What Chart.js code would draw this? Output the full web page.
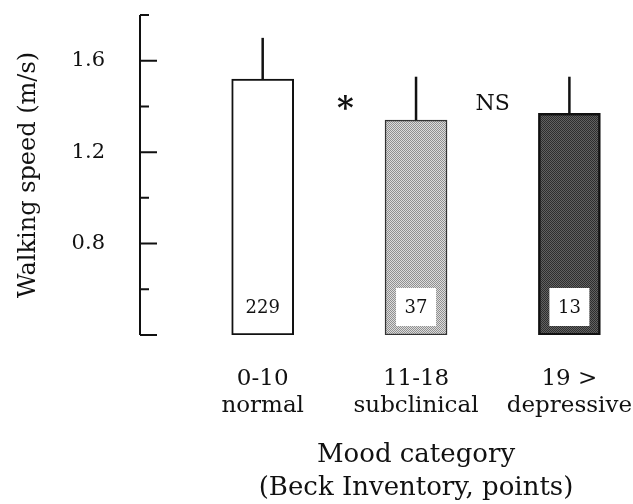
<!DOCTYPE html>
<html>
<head>
<meta charset="utf-8">
<script src="https://cdn.jsdelivr.net/npm/chart.js@4.4.1/dist/chart.umd.min.js"></script>
<style>
  html, body { margin: 0; padding: 0; background: #fff; }
  canvas { display: block; }
</style>
</head>
<body>
<canvas id="chart" width="633" height="504"></canvas>
<script>
// Walking speed by mood category (Beck Inventory)
var categoryTop = ['0-10', '11-18', '19 >'];
var categoryBottom = ['normal', 'subclinical', 'depressive'];
var meanSpeed = [1.52, 1.34, 1.37];
var sdSpeed = [0.18, 0.19, 0.16];
var groupSize = [229, 37, 13];
var compareLabels = ['*', 'NS'];
var compareLevel = 1.41;
var yTickLabels = ['0.8', '1.2', '1.6'];
var yMin = 0.4, yMax = 1.8;
var xTitle = ['Mood category', '(Beck Inventory, points)'];

var ink = '#111';
var serif = 'DejaVu Serif';

// small checker canvas used as a halftone fill
function makePattern(light, dark)
{
    var c = document.createElement('canvas');
    c.width = 2; c.height = 2;
    var g = c.getContext('2d');
    g.fillStyle = light; g.fillRect(0, 0, 2, 2);
    g.fillStyle = dark; g.fillRect(0, 0, 1, 1); g.fillRect(1, 1, 1, 1);
    return g.createPattern(c, 'repeat');
}

var fills = ['#ffffff', makePattern('#dcdcdc', '#909090'), makePattern('#626262', '#2e2e2e')];

// y axis line with inward ticks, error bars, group sizes, comparison marks, x title
var extras = {
    id: 'extras',
    afterDatasetsDraw: function (chart)
    {
        var ctx = chart.ctx;
        var y = chart.scales.y;
        var area = chart.chartArea;
        var bars = chart.getDatasetMeta(0).data;
        ctx.save();

        // error bars (upper half only)
        ctx.strokeStyle = ink;
        ctx.lineWidth = 2.5;
        bars.forEach(function (bar, i)
        {
            ctx.beginPath();
            ctx.moveTo(bar.x, bar.y);
            ctx.lineTo(bar.x, y.getPixelForValue(meanSpeed[i] + sdSpeed[i]));
            ctx.stroke();
        });

        // group size boxes near the bar bottoms
        ctx.font = '18px "' + serif + '"';
        ctx.textAlign = 'center';
        ctx.textBaseline = 'middle';
        bars.forEach(function (bar, i)
        {
            var bw = 40, bh = 38;
            var by = bar.base - 9 - bh;
            ctx.fillStyle = '#fff';
            ctx.fillRect(bar.x - bw / 2, by, bw, bh);
            ctx.fillStyle = ink;
            ctx.fillText(String(groupSize[i]), bar.x, by + bh / 2 + 1);
        });

        // comparison marks between neighbouring bars
        compareLabels.forEach(function (lab, i)
        {
            var px = (bars[i].x + bars[i + 1].x) / 2;
            var big = lab === '*';
            ctx.font = (big ? 'bold 32px "' : '22px "') + serif + '"';
            ctx.fillText(lab, px + (big ? 6 : 0), y.getPixelForValue(compareLevel) + (big ? 6 : 0));
        });

        // x axis title, centred under the bars
        var mid = (bars[0].x + bars[bars.length - 1].x) / 2;
        ctx.font = '26px "' + serif + '"';
        ctx.fillText(xTitle[0], mid, 455);
        ctx.fillText(xTitle[1], mid, 488);

        // y axis
        ctx.strokeStyle = ink;
        ctx.lineWidth = 2;
        ctx.beginPath();
        ctx.moveTo(area.left, y.getPixelForValue(yMax));
        ctx.lineTo(area.left, y.getPixelForValue(yMin));
        y.ticks.forEach(function (t)
        {
            var py = y.getPixelForValue(t.value);
            var major = t.label !== '' || Math.abs(t.value - yMin) < 1e-6;
            ctx.moveTo(area.left, py);
            ctx.lineTo(area.left + (major ? 17 : 9), py);
        });
        ctx.stroke();
        ctx.restore();
    }
};

new Chart(document.getElementById('chart'),
{
    type: 'bar',
    data: {
        datasets: [{
            data: meanSpeed.map(function (v, i) { return { x: i, y: v }; }),
            base: yMin,
            backgroundColor: fills,
            borderColor: [ink, '#333', ink],
            borderWidth: [2, 1.5, 2.5],
            borderSkipped: false,
            barThickness: 62
        }]
    },
    options: {
        responsive: false,
        animation: false,
        layout: { padding: { left: 10, top: 15, right: 13, bottom: 0 } },
        plugins: {
            legend: { display: false },
            tooltip: { enabled: false }
        },
        scales: {
            x: {
                type: 'linear',
                min: -0.8,
                max: 2.33,
                offset: false,
                grid: { display: false, drawTicks: false, offset: false },
                border: { display: false },
                afterBuildTicks: function (axis)
                {
                    axis.ticks = categoryTop.map(function (c, i) { return { value: i }; });
                },
                afterFit: function (axis)
                {
                    axis.height = 169;
                    axis.paddingLeft = 0;
                    axis.paddingRight = 0;
                },
                ticks: {
                    autoSkip: false,
                    maxRotation: 0,
                    padding: 30,
                    color: ink,
                    font: { family: serif, size: 23, lineHeight: 1.2 },
                    callback: function (v) { return [categoryTop[v], categoryBottom[v]]; }
                }
            },
            y: {
                min: yMin,
                max: yMax,
                beginAtZero: false,
                grid: { display: false, drawTicks: false },
                border: { display: false },
                afterFit: function (axis)
                {
                    axis.width = 130;
                    axis.paddingTop = 0;
                    axis.paddingBottom = 0;
                },
                ticks: {
                    stepSize: 0.2,
                    padding: 35,
                    color: ink,
                    font: { family: serif, size: 21 },
                    callback: function (v)
                    {
                        var s = Number(v).toFixed(1);
                        return yTickLabels.indexOf(s) >= 0 ? s : '';
                    }
                },
                title: {
                    display: true,
                    text: 'Walking speed (m/s)',
                    color: ink,
                    font: { family: serif, size: 24 },
                    padding: { top: 4, bottom: 0 }
                }
            }
        }
    },
    plugins: [extras]
});
</script>
</body>
</html>
